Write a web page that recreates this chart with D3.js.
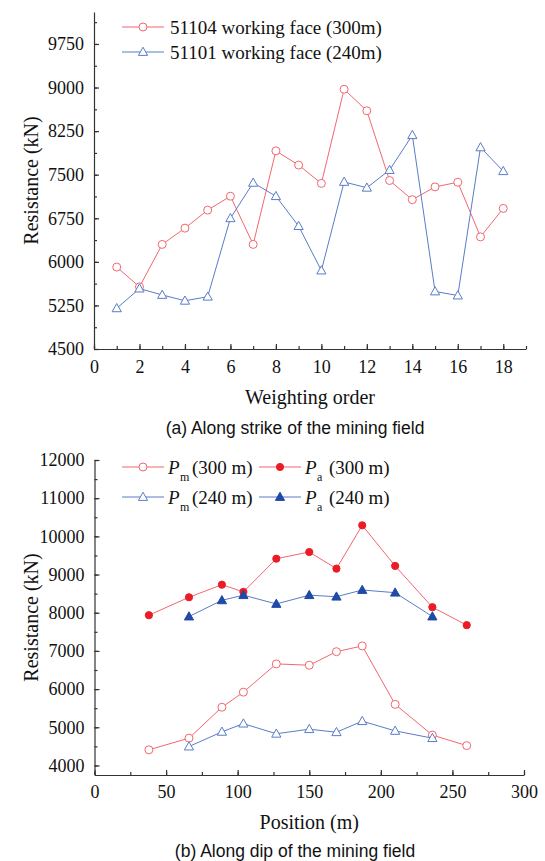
<!DOCTYPE html>
<html>
<head>
<meta charset="UTF-8">
<script src="https://d3js.org/d3.v7.min.js"></script>
<style>
    body { margin: 0; background: #fff; }
    .axis path, .axis line { stroke: #333; stroke-width: 1.2; }
</style>
</head>
<body>
<script>
    // (a) along strike
    var order = [1, 2, 3, 4, 5, 6, 7, 8, 9, 10, 11, 12, 13, 14, 15, 16, 17, 18];
    var strike300 = [5910, 5570, 6300, 6580, 6890, 7130, 6300, 7910, 7665, 7350, 8970, 8600, 7400, 7070, 7290, 7370, 6430, 6920];
    var strike240 = [5200, 5540, 5430, 5330, 5400, 6750, 7360, 7130, 6615, 5850, 7375, 7275, 7580, 8180, 5490, 5420, 7970, 7560];
    var strikeYTicks = [4500, 5250, 6000, 6750, 7500, 8250, 9000, 9750];
    var strikeXTicks = [0, 2, 4, 6, 8, 10, 12, 14, 16, 18];

    // (b) along dip
    var pos300 = [38, 66, 89, 104, 127, 150, 169, 187, 210, 236, 260];
    var pm300 = [4410, 4715, 5525, 5920, 6660, 6625, 6980, 7130, 5600, 4795, 4520];
    var pa300 = [7935, 8405, 8735, 8545, 9415, 9590, 9155, 10290, 9225, 8145, 7675];
    var pos240 = [66, 89, 104, 127, 150, 169, 187, 210, 236];
    var pm240 = [4495, 4880, 5095, 4830, 4950, 4870, 5160, 4905, 4715];
    var pa240 = [7900, 8325, 8460, 8230, 8460, 8420, 8595, 8525, 7900];
    var dipYTicks = [4000, 5000, 6000, 7000, 8000, 9000, 10000, 11000, 12000];
    var dipXTicks = [0, 50, 100, 150, 200, 250, 300];

    var red = "#f26770", redFill = "#ec1c26";
    var blue = "#5a7cc8", blueFill = "#1f4aa6";
    var serif = "'Liberation Serif', 'Times New Roman', Times, serif";
    var sans = "'Liberation Sans', Arial, Helvetica, sans-serif";

    var width = 545, height = 861;
    var svg = d3.select("body").append("svg")
        .attr("width", width)
        .attr("height", height);

    function marker(g, shape, x, y, stroke, fill) {
        if (shape === "circle") {
            g.append("circle").attr("cx", x).attr("cy", y)
                .attr("r", fill === "none" ? 4 : 3.6)
                .attr("fill", fill === "none" ? "#fff" : fill)
                .attr("stroke", fill === "none" ? stroke : fill)
                .attr("stroke-width", 1);
        } else {
            g.append("path")
                .attr("d", "M" + x + "," + (y - 4.8) + "L" + (x + 4.6) + "," + (y + 3.4) + "L" + (x - 4.6) + "," + (y + 3.4) + "Z")
                .attr("fill", fill === "none" ? "#fff" : fill)
                .attr("stroke", fill === "none" ? stroke : fill)
                .attr("stroke-width", 1);
        }
    }

    function series(g, x, y, xs, ys, shape, stroke, fill) {
        var pts = xs.map(function (d, i) { return [x(d), y(ys[i])]; });
        g.append("path")
            .attr("d", d3.line()(pts))
            .attr("fill", "none")
            .attr("stroke", stroke)
            .attr("stroke-width", 1);
        pts.forEach(function (p) { marker(g, shape, p[0], p[1], stroke, fill); });
    }

    function label(x, y, txt, size) {
        return svg.append("text").attr("x", x).attr("y", y)
            .style("font-family", serif).style("font-size", size + "px")
            .style("fill", "#111").text(txt);
    }

    function axes(c) {
        var g = svg.append("g");
        var xMinor = d3.range(c.xDomain[0], c.xDomain[1] + 0.001, c.xMinorStep);
        var yMinor = d3.range(c.yMinorStart, c.yDomain[1] + 0.001, c.yMinorStep);

        g.append("g").attr("class", "axis")
            .attr("transform", "translate(0," + c.y.range()[0] + ")")
            .call(d3.axisBottom(c.x).tickValues(xMinor).tickSize(-3).tickFormat(""))
            .call(function (s) { s.select(".domain").remove(); });
        g.append("g").attr("class", "axis")
            .attr("transform", "translate(" + c.x.range()[0] + ",0)")
            .call(d3.axisLeft(c.y).tickValues(yMinor).tickSize(-3).tickFormat(""))
            .call(function (s) { s.select(".domain").remove(); });

        g.append("g").attr("class", "axis")
            .attr("transform", "translate(0," + c.y.range()[0] + ")")
            .call(d3.axisBottom(c.x).tickValues(c.xTicks).tickSize(-5).tickSizeOuter(0).tickPadding(c.xPad).tickFormat(d3.format("d")));
        g.append("g").attr("class", "axis")
            .attr("transform", "translate(" + c.x.range()[0] + ",0)")
            .call(d3.axisLeft(c.y).tickValues(c.yTicks).tickSize(-5).tickSizeOuter(0).tickPadding(10).tickFormat(d3.format("d")));
        g.selectAll(".axis text")
            .style("font-family", serif).style("font-size", "18px").style("fill", "#111");

        var xr = c.x.range(), yr = c.y.range();
        label((xr[0] + xr[1]) / 2, c.xTitleY, c.xTitle, 20).attr("text-anchor", "middle");
        label(0, 0, "Resistance (kN)", 20).attr("text-anchor", "middle")
            .attr("transform", "translate(38," + ((yr[0] + yr[1]) / 2) + ") rotate(-90)");
        svg.append("text")
            .attr("x", 295).attr("y", c.captionY)
            .attr("text-anchor", "middle")
            .style("font-family", sans).style("font-size", "17.5px").style("fill", "#111")
            .text(c.caption);
    }

    // ---------- panel (a)
    var xA = d3.scaleLinear().domain([0, 19]).range([94, 526]);
    var yA = d3.scaleLinear().domain([4500, 10300]).range([349, 12]);
    axes({
        x: xA, y: yA, xDomain: [0, 19], xMinorStep: 1, yDomain: [4500, 10300],
        yMinorStart: 4500, yMinorStep: 375, xTicks: strikeXTicks, yTicks: strikeYTicks,
        xPad: 11, xTitle: "Weighting order", xTitleY: 404,
        caption: "(a) Along strike of the mining field", captionY: 434
    });
    var gA = svg.append("g");
    series(gA, xA, yA, order, strike300, "circle", red, "none");
    series(gA, xA, yA, order, strike240, "triangle", blue, "none");

    // legend (a)
    var legA = svg.append("g");
    [["51104 working face (300m)", "circle", red], ["51101 working face (240m)", "triangle", blue]].forEach(function (d, i) {
        var ly = 27 + i * 25;
        legA.append("line").attr("x1", 122).attr("x2", 164).attr("y1", ly).attr("y2", ly)
            .attr("stroke", d[2]).attr("stroke-width", 1);
        marker(legA, d[1], 143, ly, d[2], "none");
        label(170, ly + 6.5, d[0], 19);
    });

    // ---------- panel (b)
    var xB = d3.scaleLinear().domain([0, 300]).range([94.5, 524]);
    var yB = d3.scaleLinear().domain([3750, 12000]).range([775, 460]);
    axes({
        x: xB, y: yB, xDomain: [0, 300], xMinorStep: 25, yDomain: [3750, 12000],
        yMinorStart: 4000, yMinorStep: 500, xTicks: dipXTicks, yTicks: dipYTicks,
        xPad: 10, xTitle: "Position (m)", xTitleY: 829,
        caption: "(b) Along dip of the mining field", captionY: 857
    });
    var gB = svg.append("g");
    series(gB, xB, yB, pos300, pm300, "circle", red, "none");
    series(gB, xB, yB, pos300, pa300, "circle", red, redFill);
    series(gB, xB, yB, pos240, pm240, "triangle", blue, "none");
    series(gB, xB, yB, pos240, pa240, "triangle", blue, blueFill);

    // legend (b)
    var legB = svg.append("g");
    var items = [
        { sub: "m", label: "(300 m)", shape: "circle", c: red, f: "none", x: 122, y: 467 },
        { sub: "a", label: "(300 m)", shape: "circle", c: red, f: redFill, x: 259, y: 467 },
        { sub: "m", label: "(240 m)", shape: "triangle", c: blue, f: "none", x: 122, y: 497 },
        { sub: "a", label: "(240 m)", shape: "triangle", c: blue, f: blueFill, x: 259, y: 497 }
    ];
    items.forEach(function (d) {
        legB.append("line").attr("x1", d.x).attr("x2", d.x + 42).attr("y1", d.y).attr("y2", d.y)
            .attr("stroke", d.c).attr("stroke-width", 1);
        marker(legB, d.shape, d.x + 21, d.y, d.c, d.f);
        label(d.x + 46, d.y + 6.5, "P", 19).style("font-style", "italic");
        label(d.x + 58, d.y + 14, d.sub, 12);
        label(d.x + 70, d.y + 6.5, d.label, 19);
    });
</script>
</body>
</html>
